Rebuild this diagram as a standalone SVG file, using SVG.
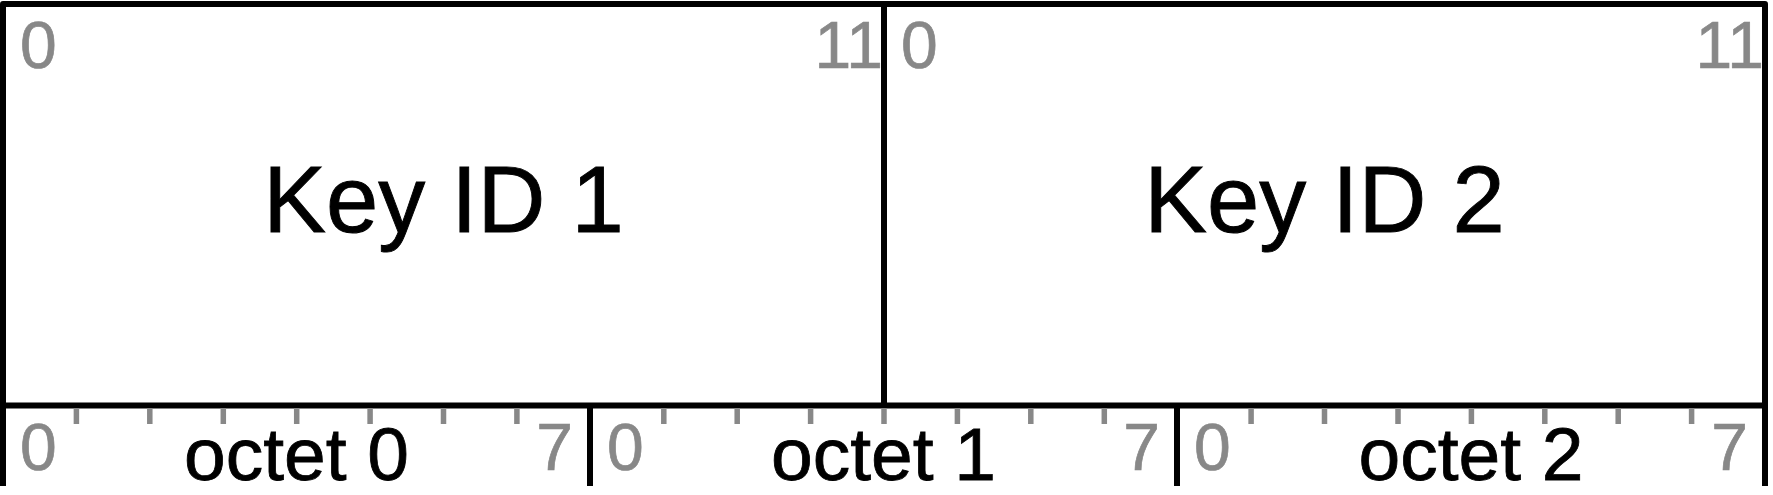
<svg xmlns="http://www.w3.org/2000/svg" width="1773" height="495" viewBox="0 0 1773 495">
<style>
.ln{stroke:#000;stroke-width:6;fill:none;stroke-linejoin:round}
.tk{stroke:#888;stroke-width:5.5;fill:none}
.bit{font-family:"Liberation Sans",Arial,sans-serif;font-size:66px;fill:#888;stroke:#888;stroke-width:0.7}
.key{font-family:"Liberation Sans",Arial,sans-serif;font-size:94px;fill:#000;stroke:#000;stroke-width:0.9;text-anchor:middle}
.oct{font-family:"Liberation Sans",Arial,sans-serif;font-size:75px;fill:#000;stroke:#000;stroke-width:0.8;text-anchor:middle}
.e{text-anchor:end}
</style>
<rect width="1773" height="495" fill="#fff"/>
<g id="connectors">
<path class="ln" d="M3,486 V4 H1765 V486"/>
<path class="ln" d="M3,405.5 H1765"/>
<path class="ln" d="M884,4 V405.5"/>
<path class="ln" d="M590,405.5 V486"/>
<path class="ln" d="M1177,405.5 V486"/>
</g>
<g id="field-key-id-1">
<text class="bit" x="20" y="68">0</text>
<text class="bit e" x="883" y="68">11</text>
<text class="key" x="443.5" y="232">Key ID 1</text>
</g>
<g id="field-key-id-2">
<text class="bit" x="901" y="68">0</text>
<text class="bit e" x="1764" y="68">11</text>
<text class="key" x="1324.5" y="232">Key ID 2</text>
</g>
<g id="octet-0">
<path class="tk" d="M76.4,408V424 M149.8,408V424 M223.3,408V424 M296.7,408V424 M370.1,408V424 M443.5,408V424 M516.9,408V424"/>
<text class="bit" x="20" y="470">0</text>
<text class="bit e" x="573" y="470">7</text>
<text class="oct" x="296.5" y="480">octet 0</text>
</g>
<g id="octet-1">
<path class="tk" d="M663.8,408V424 M737.2,408V424 M810.6,408V424 M884,408V424 M957.4,408V424 M1030.8,408V424 M1104.3,408V424"/>
<text class="bit" x="607" y="470">0</text>
<text class="bit e" x="1160" y="470">7</text>
<text class="oct" x="883.5" y="480">octet 1</text>
</g>
<g id="octet-2">
<path class="tk" d="M1251.1,408V424 M1324.5,408V424 M1398,408V424 M1471.4,408V424 M1544.8,408V424 M1618.2,408V424 M1691.6,408V424"/>
<text class="bit" x="1194" y="470">0</text>
<text class="bit e" x="1748" y="470">7</text>
<text class="oct" x="1471" y="480">octet 2</text>
</g>
</svg>
